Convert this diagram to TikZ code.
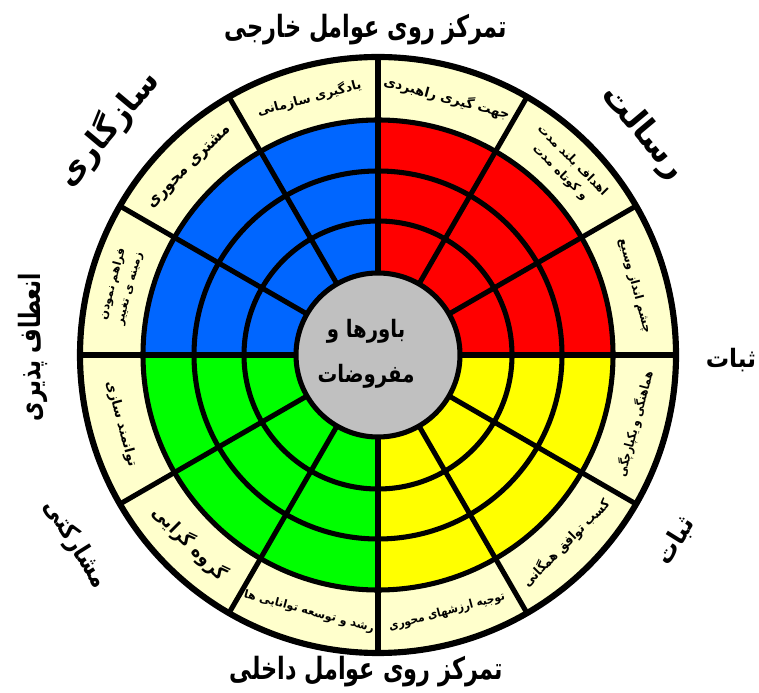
\documentclass[tikz,border=0pt]{standalone}
\usepackage{fontspec}
\newfontfamily\farsi[Script=Arabic]{DejaVu Sans}
\TeXXeTstate=1
\newcommand{\sq}[2]{\scalebox{#1}[1]{#2}}

\definecolor{paleyellow}{HTML}{FFFFCC}
\definecolor{qblue}{HTML}{0066FF}
\definecolor{qred}{HTML}{FF0000}
\definecolor{qgreen}{HTML}{00FF00}
\definecolor{qyellow}{HTML}{FFFF00}
\definecolor{coregray}{HTML}{C0C0C0}

\tikzset{
  ringline/.style={line width=3.8pt},
  ringlabel/.style={align=center, inner sep=0pt, font=\farsi\bfseries\fontsize{9}{13}\selectfont},
  biglabel/.style={font=\farsi\bfseries\fontsize{23}{27}\selectfont, inner sep=0pt},
}

\begin{document}
\begin{tikzpicture}[x=0.75pt,y=0.75pt]
\useasboundingbox (0,0) rectangle (759,692);

\begin{scope}[shift={(378,337)}]

% Anneau exterieur
\fill[paleyellow] (0,0) circle (298);

% Quadrants
\fill[qred] (0,0) -- (0:235) arc (0:90:235) -- cycle;
\fill[qblue] (0,0) -- (90:235) arc (90:180:235) -- cycle;
\fill[qgreen] (0,0) -- (180:235) arc (180:270:235) -- cycle;
\fill[qyellow] (0,0) -- (270:235) arc (270:360:235) -- cycle;

% Coeur
\fill[coregray] (0,0) circle (82);

% Cercles et rayons
\foreach \r in {82,134,184,235}
{
\draw[ringline] (0,0) circle (\r);
}
\draw[line width=4.6pt] (0,0) circle (298);

\foreach \a in {0,30,...,330}
{
\draw[ringline] (\a:82) -- (\a:298);
}

% Etiquettes de l'anneau
\node[ringlabel, rotate=-15, font=\farsi\bfseries\fontsize{10}{13}\selectfont] (lbl1) at (75:266) {\beginR جهت گیری راهبردی\endR};
\node[ringlabel, rotate=15, font=\farsi\bfseries\fontsize{9.5}{13}\selectfont] (lbl2) at (105:266) {\beginR یادگیری سازمانی\endR};
\node[ringlabel, rotate=45, font=\farsi\bfseries\fontsize{12.5}{13}\selectfont] (lbl3) at (135:266) {\sq{0.9}{\beginR مشتری محوری\endR}};
\node[ringlabel, rotate=75, font=\farsi\bfseries\fontsize{8.5}{13}\selectfont] (lbl4) at (165:266) {\beginR فراهم نمودن\endR\\\beginR زمینه ی تغییر\endR};
\node[ringlabel, rotate=-75, font=\farsi\bfseries\fontsize{10}{13}\selectfont] (lbl5) at (195:266) {\beginR توانمند سازی\endR};
\node[ringlabel, rotate=-45, font=\farsi\bfseries\fontsize{14}{13}\selectfont] (lbl6) at (225:266) {\sq{0.9}{\beginR گروه گرایی\endR}};
\node[ringlabel, rotate=-15, font=\farsi\bfseries\fontsize{8.5}{13}\selectfont] (lbl7) at (255:266) {\beginR رشد و توسعه توانایی ها\endR};
\node[ringlabel, rotate=15, font=\farsi\bfseries\fontsize{9}{13}\selectfont] (lbl8) at (285:266) {\sq{0.88}{\beginR توجیه ارزشهای محوری\endR}};
\node[ringlabel, rotate=45, font=\farsi\bfseries\fontsize{10}{13}\selectfont] (lbl9) at (315:266) {\sq{0.88}{\beginR کسب توافق همگانی\endR}};
\node[ringlabel, rotate=75, font=\farsi\bfseries\fontsize{9.5}{13}\selectfont] (lbl10) at (345:266) {\sq{0.82}{\beginR هماهنگی و یکپارچگی\endR}};
\node[ringlabel, rotate=-75] (lbl11) at (15:266) {\beginR چشم انداز وسیع\endR};
\node[ringlabel, rotate=-45] (lbl12) at (45:266) {\beginR اهداف بلند مدت\endR\\\beginR و کوتاه مدت\endR};

% Centre
\node[align=center, inner sep=0pt, font=\farsi\bfseries\fontsize{18}{34}\selectfont] (core) at (-12,1) {\sq{0.82}{\beginR باورها و\endR}\\\sq{0.82}{\beginR مفروضات\endR}};

% Titres
\node[biglabel] (external) at (-12,325) {\sq{0.73}{\beginR تمرکز روی عوامل خارجی\endR}};
\node[biglabel] (internal) at (-12,-317) {\sq{0.73}{\beginR تمرکز روی عوامل داخلی\endR}};

\node[biglabel, font=\farsi\bfseries\fontsize{24}{27}\selectfont, rotate=50] (adapt) at (140:353) {\beginR سازگاری\endR};
\node[biglabel, font=\farsi\bfseries\fontsize{25}{27}\selectfont, rotate=-50] (mission) at (40:346) {\beginR رسالت\endR};
\node[biglabel, font=\farsi\bfseries\fontsize{19}{20}\selectfont] (consist1) at (353,-5) {\sq{0.92}{\beginR ثبات\endR}};
\node[biglabel, font=\farsi\bfseries\fontsize{19}{20}\selectfont, rotate=58] (consist2) at (-32:351) {\sq{0.92}{\beginR ثبات\endR}};
\node[biglabel, font=\farsi\bfseries\fontsize{19}{20}\selectfont, rotate=-58] (involve) at (-148:357) {\sq{0.85}{\beginR مشارکتی\endR}};
\node[biglabel, font=\farsi\bfseries\fontsize{22}{20}\selectfont, rotate=90] (flex) at (-345,8) {\sq{0.72}{\beginR انعطاف پذیری\endR}};

\end{scope}

\end{tikzpicture}
\end{document}
